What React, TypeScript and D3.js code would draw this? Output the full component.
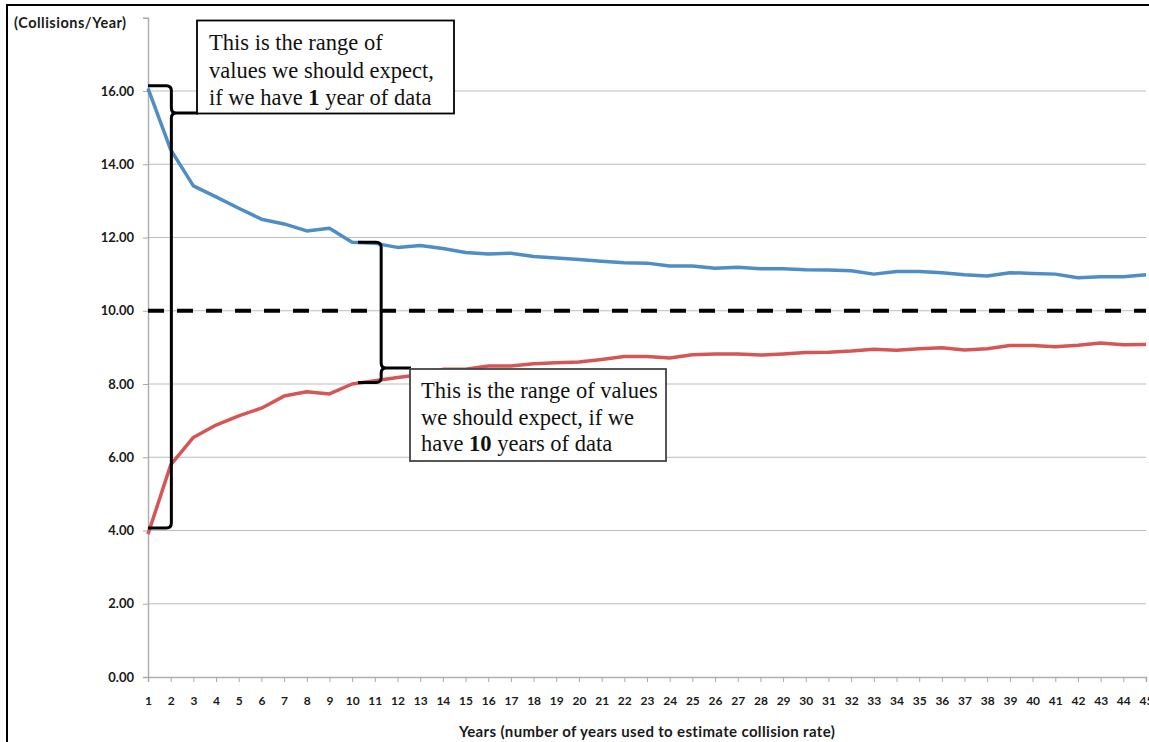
import { useRef, useEffect } from 'react';
import * as d3 from 'd3';

const years = [
  1, 2, 3, 4, 5, 6, 7, 8, 9, 10, 11, 12, 13, 14, 15, 16, 17, 18, 19, 20, 21, 22, 23,
  24, 25, 26, 27, 28, 29, 30, 31, 32, 33, 34, 35, 36, 37, 38, 39, 40, 41, 42, 43, 44, 45,
];

const upperRange = [
  16.07, 14.4, 13.41, 13.11, 12.8, 12.5, 12.37, 12.18, 12.25, 11.87, 11.84, 11.73, 11.78,
  11.7, 11.59, 11.55, 11.57, 11.48, 11.44, 11.4, 11.35, 11.31, 11.3, 11.22, 11.22, 11.16,
  11.19, 11.15, 11.15, 11.12, 11.11, 11.09, 11.0, 11.07, 11.07, 11.04, 10.98, 10.95, 11.04,
  11.02, 11.0, 10.9, 10.93, 10.93, 10.98,
];

const lowerRange = [
  3.9, 5.79, 6.54, 6.88, 7.13, 7.34, 7.67, 7.79, 7.73, 8.0, 8.09, 8.18, 8.25, 8.4, 8.4,
  8.49, 8.49, 8.55, 8.58, 8.6, 8.67, 8.75, 8.75, 8.71, 8.8, 8.82, 8.82, 8.79, 8.82, 8.86,
  8.87, 8.9, 8.95, 8.92, 8.96, 8.99, 8.93, 8.96, 9.05, 9.05, 9.02, 9.06, 9.12, 9.07, 9.08,
];

const expectedRate = 10;
const yTicks = [0, 2, 4, 6, 8, 10, 12, 14, 16];

const yTitle = '(Collisions/Year)';
const xTitle = 'Years (number of years used to estimate collision rate)';

// brace ends in data units: [start year, spine year, top value, tip value, bottom value]
const brace1 = [1, 2.03, 16.14, 15.4, 4.07];
const brace2 = [10.26, 11.28, 11.87, 8.44, 8.04];

const note1 = [['This is the range of'], ['values we should expect,'], ['if we have ', '1', ' year of data']];
const note2 = [['This is the range of values'], ['we should expect, if we'], ['have ', '10', ' years of data']];

const W = 1149;
const H = 742;
const sans = 'Lato, "Liberation Sans", sans-serif';
const serif = '"Liberation Serif", "Times New Roman", serif';

function App() {
  const svgRef = useRef<SVGSVGElement>(null);

  useEffect(() => {
    const svg = d3.select(svgRef.current);
    svg.selectAll('*').remove();

    const x = d3.scaleLinear().domain([1, 45]).range([148, 1146]);
    const y = d3.scaleLinear().domain([0, 18]).range([677, 17.75]);

    svg.append('rect').attr('width', W).attr('height', H).attr('fill', 'white');
    svg
      .append('rect')
      .attr('x', 7)
      .attr('y', 5)
      .attr('width', 1300)
      .attr('height', 900)
      .attr('fill', 'none')
      .attr('stroke', '#000')
      .attr('stroke-width', 2);

    // horizontal grid
    svg
      .append('g')
      .selectAll('line')
      .data(yTicks.filter((d) => d > 0))
      .enter()
      .append('line')
      .attr('x1', x(1))
      .attr('x2', x(45))
      .attr('y1', (d) => y(d))
      .attr('y2', (d) => y(d))
      .attr('stroke', '#bdbdbd')
      .attr('stroke-width', 1.2);

    // y axis
    const yAxis = d3
      .axisLeft(y)
      .tickValues([...yTicks, 18])
      .tickSize(5)
      .tickPadding(9)
      .tickFormat((d) => (+d === 18 ? '' : d3.format('.2f')(+d)));
    const gy = svg.append('g').attr('transform', `translate(${x(1)},0)`).call(yAxis);
    gy.selectAll('text')
      .attr('fill', '#1a1a1a')
      .style('font-family', sans)
      .style('font-weight', '700')
      .style('font-size', '13px');

    // x axis
    const xAxis = d3
      .axisBottom(x)
      .tickValues(years)
      .tickSize(5)
      .tickPadding(14)
      .tickFormat(d3.format('d'));
    const gx = svg.append('g').attr('transform', `translate(0,${y(0)})`).call(xAxis);
    gx.selectAll('text')
      .attr('fill', '#1a1a1a')
      .style('font-family', sans)
      .style('font-weight', '700')
      .style('font-size', '12px');

    svg.selectAll('.domain').attr('stroke', '#b0b0b0').attr('stroke-width', 1.5);
    svg.selectAll('.tick line').attr('stroke', '#a8a8a8');

    svg
      .append('text')
      .attr('x', 14)
      .attr('y', 28)
      .attr('fill', '#1a1a1a')
      .style('font-family', sans)
      .style('font-weight', '700')
      .style('font-size', '14.5px')
      .style('letter-spacing', '0.5px')
      .text(yTitle);

    svg
      .append('text')
      .attr('x', 647)
      .attr('y', 737)
      .attr('text-anchor', 'middle')
      .attr('fill', '#1a1a1a')
      .style('font-family', sans)
      .style('font-weight', '700')
      .style('font-size', '15px')
      .style('letter-spacing', '0.35px')
      .text(xTitle);

    // expected value
    svg
      .append('line')
      .attr('x1', x(1))
      .attr('x2', x(45))
      .attr('y1', y(expectedRate))
      .attr('y2', y(expectedRate))
      .attr('stroke', '#000')
      .attr('stroke-width', 4)
      .attr('stroke-dasharray', '16,13');

    const line = d3
      .line<number>()
      .x((_, i) => x(years[i]))
      .y((d) => y(d));

    svg
      .append('path')
      .datum(upperRange)
      .attr('fill', 'none')
      .attr('stroke', '#4f8dc6')
      .attr('stroke-width', 3.5)
      .attr('stroke-linejoin', 'round')
      .attr('d', line);

    svg
      .append('path')
      .datum(lowerRange)
      .attr('fill', 'none')
      .attr('stroke', '#d65656')
      .attr('stroke-width', 3.5)
      .attr('stroke-linejoin', 'round')
      .attr('d', line);

    const bracePath = (b: number[], xTip: number) => {
      const [x0, xs, yTop, yTip, yBot] = [x(b[0]), x(b[1]), y(b[2]), y(b[3]), y(b[4])];
      const r = 5;
      const p = d3.path();
      p.moveTo(x0, yTop);
      p.lineTo(xs - r, yTop);
      p.quadraticCurveTo(xs, yTop, xs, yTop + r);
      p.lineTo(xs, yTip - r);
      p.quadraticCurveTo(xs, yTip, xs + r, yTip);
      p.lineTo(xTip, yTip);
      p.moveTo(xs + r, yTip);
      p.quadraticCurveTo(xs, yTip, xs, yTip + r);
      p.lineTo(xs, yBot - r);
      p.quadraticCurveTo(xs, yBot, xs - r, yBot);
      p.lineTo(x0, yBot);
      return p.toString();
    };

    svg
      .append('path')
      .attr('d', bracePath(brace1, 198))
      .attr('fill', 'none')
      .attr('stroke', '#000')
      .attr('stroke-width', 3);
    svg
      .append('path')
      .attr('d', bracePath(brace2, 411))
      .attr('fill', 'none')
      .attr('stroke', '#000')
      .attr('stroke-width', 3);

    const drawNote = (
      lines: string[][],
      bx: number,
      by: number,
      bw: number,
      bh: number,
      tx: number,
      baselines: number[],
      stroke: string,
    ) => {
      svg
        .append('rect')
        .attr('x', bx)
        .attr('y', by)
        .attr('width', bw)
        .attr('height', bh)
        .attr('fill', 'white')
        .attr('stroke', stroke)
        .attr('stroke-width', 1.8);
      lines.forEach((parts, i) => {
        const t = svg
          .append('text')
          .attr('x', tx)
          .attr('y', baselines[i])
          .attr('fill', '#111')
          .style('font-family', serif)
          .style('font-size', '22.5px');
        parts.forEach((s, j) => {
          t.append('tspan')
            .style('font-weight', j === 1 ? '700' : '400')
            .text(s);
        });
      });
    };

    drawNote(note1, 197, 20.5, 257, 93, 209, [50, 78, 105], '#000');
    drawNote(note2, 410, 369, 256, 92, 421, [398, 424.5, 451], '#444');
  }, []);

  return (
    <div style={{ position: 'absolute', left: 0, top: 0, background: 'white' }}>
      <svg ref={svgRef} width={W} height={H} style={{ display: 'block' }} />
    </div>
  );
}

export default App;
